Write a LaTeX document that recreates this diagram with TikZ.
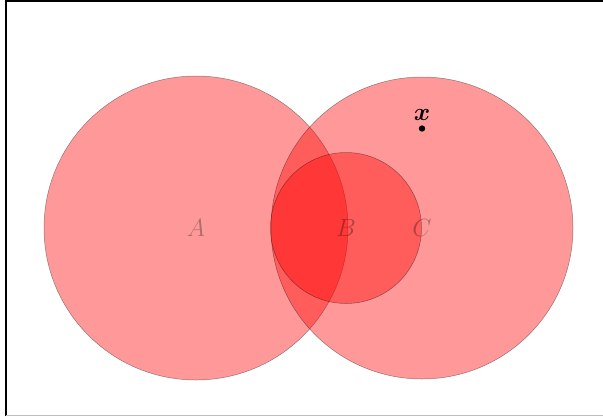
\documentclass[tikz,border=0pt]{standalone}
\usepackage{amsmath}
\begin{document}
\begin{tikzpicture}[x=1pt,y=-1pt,
  setcircle/.style={fill=red, fill opacity=0.4, draw=black, draw opacity=0.4, line width=0.5pt},
  setlabel/.style={text opacity=0.3, font=\fontsize{24}{28}\selectfont},
  ptlabel/.style={font=\fontsize{24}{28}\selectfont}]
\useasboundingbox (0,0) rectangle (603,416);
\clip (0,0) rectangle (603,416);
\coordinate (tl) at (6.2,1);
\coordinate (bl) at (6.2,416);
\coordinate (tr) at (650,1);
\coordinate (br) at (650,415.6);
\draw[line width=2pt] (bl) -- (tl) -- (tr);
\draw[line width=0.8pt, gray!50] (bl |- br) -- (br);
\path[setcircle] (196,228) circle[radius=152];
\path[setcircle] (422,228) circle[radius=151];
\path[setcircle] (346,228) circle[radius=75.5];
\node[setlabel] (A) at (196,228) {$A$};
\node[setlabel] (B) at (346,228) {$B$};
\node[setlabel] (C) at (422,228) {$C$};
\fill (422,128.5) circle[radius=3.2];
\coordinate (xpt) at (422,128.5);
\node[ptlabel, anchor=base] (xl) at (422,120) {$\boldsymbol{x}$};
\end{tikzpicture}
\end{document}
